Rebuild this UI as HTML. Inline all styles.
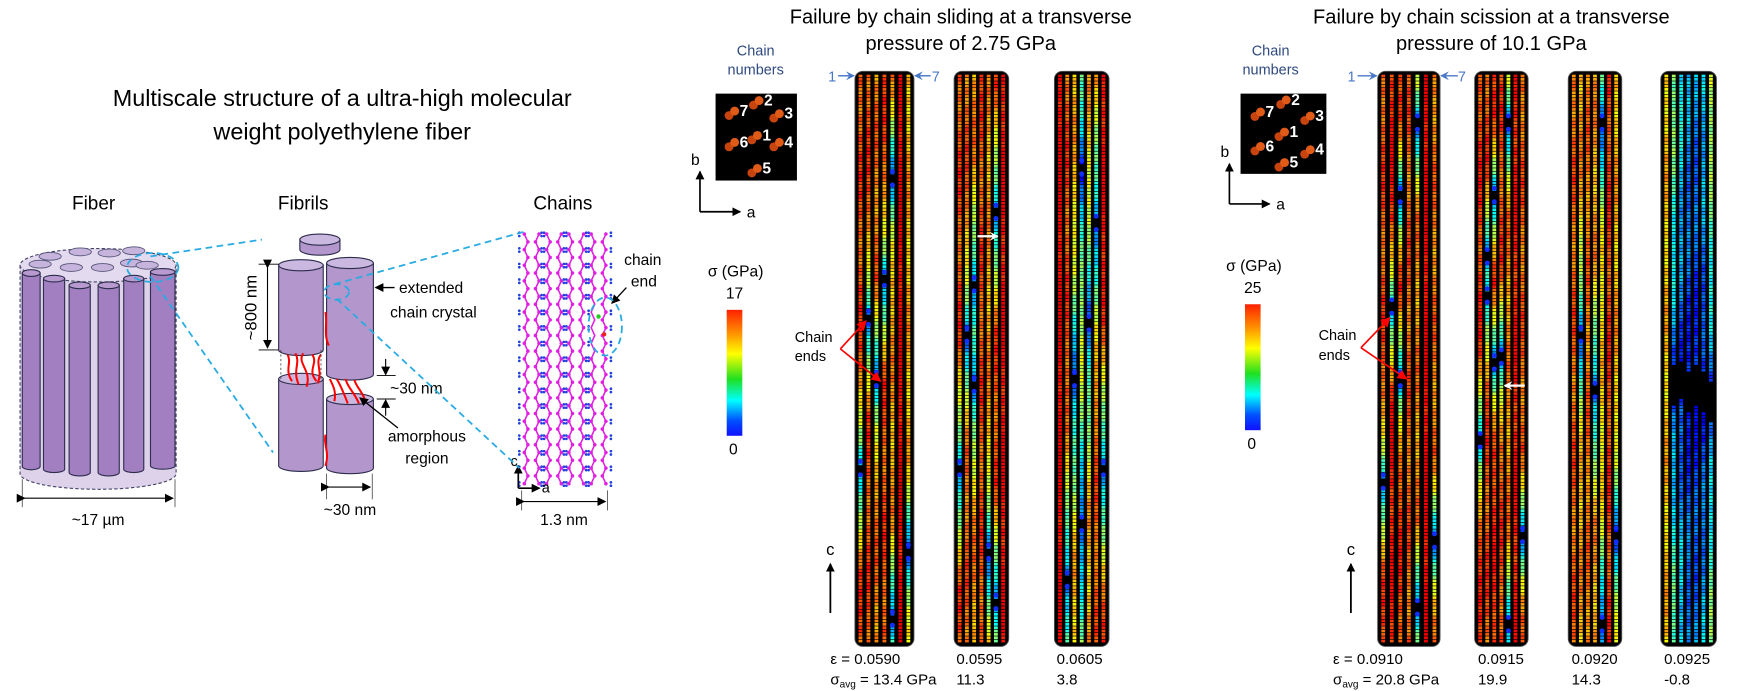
<!DOCTYPE html>
<html><head><meta charset="utf-8"><style>
html,body{margin:0;padding:0;background:#fff;}
svg{display:block;font-family:"Liberation Sans",Arial,sans-serif;}
</style></head><body>
<svg id="s" width="1741" height="691" viewBox="0 0 1562 620" preserveAspectRatio="none" xmlns="http://www.w3.org/2000/svg">
<defs>
<linearGradient id="cb" x1="0" y1="0" x2="0" y2="1">
<stop offset="0" stop-color="#ff2000"/><stop offset="0.2" stop-color="#ff9a00"/><stop offset="0.35" stop-color="#ffff00"/><stop offset="0.55" stop-color="#20e020"/><stop offset="0.72" stop-color="#00ffff"/><stop offset="0.88" stop-color="#0050ff"/><stop offset="1" stop-color="#1010ff"/>
</linearGradient>
<marker id="ah" markerWidth="8" markerHeight="8" refX="7" refY="4" orient="auto" markerUnits="userSpaceOnUse"><path d="M0,0 L8,4 L0,8 z" fill="#000"/></marker>
<marker id="ahr" markerWidth="9" markerHeight="9" refX="8" refY="4.5" orient="auto" markerUnits="userSpaceOnUse"><path d="M0,0 L9,4.5 L0,9 z" fill="#f00"/></marker>
<marker id="ahb" markerWidth="8" markerHeight="8" refX="7" refY="4" orient="auto" markerUnits="userSpaceOnUse"><path d="M0,0 L8,4 L0,8 L3,4 z" fill="#4a78c8"/></marker>
<marker id="ahw" markerWidth="8" markerHeight="8" refX="7" refY="4" orient="auto" markerUnits="userSpaceOnUse"><path d="M0,0 L8,4 L0,8 L3,4 z" fill="#fff"/></marker>
</defs>
<text x="307" y="95" font-size="21" text-anchor="middle">Multiscale structure of a ultra-high molecular</text>
<text x="307" y="125" font-size="21" text-anchor="middle">weight polyethylene fiber</text>
<text x="84" y="188" font-size="17" text-anchor="middle">Fiber</text>
<text x="272" y="188" font-size="17" text-anchor="middle">Fibrils</text>
<text x="505" y="188" font-size="17" text-anchor="middle">Chains</text>
<g id="fiber"></g>
<g id="fibrils"></g>
<g id="lattice"></g>
<g stroke="#29abe2" stroke-width="1.6" stroke-dasharray="6,4" fill="none">
<line x1="135" y1="230" x2="235" y2="215"/>
<line x1="135" y1="248" x2="245" y2="406"/>
<ellipse cx="137" cy="240" rx="23" ry="13"/>
<line x1="300" y1="255" x2="470" y2="208"/>
<line x1="302" y1="268" x2="466" y2="420"/>
<ellipse cx="302" cy="262" rx="11" ry="7"/>
<ellipse cx="543" cy="293" rx="15" ry="26"/>
</g>
<text x="862" y="21" font-size="18" text-anchor="middle">Failure by chain sliding at a transverse</text>
<text x="862" y="45" font-size="18" text-anchor="middle">pressure of 2.75 GPa</text>
<text x="1338" y="21" font-size="18" text-anchor="middle">Failure by chain scission at a transverse</text>
<text x="1338" y="45" font-size="18" text-anchor="middle">pressure of 10.1 GPa</text>
<g id="boxes"></g>
<g id="panels"></g>
<g id="anno"></g>
</svg>
<script>
(function(){
var NS="http://www.w3.org/2000/svg";
function el(p,t,a,txt){var e=document.createElementNS(NS,t);for(var k in a)e.setAttribute(k,a[k]);if(txt!==undefined)e.textContent=txt;document.getElementById(p).appendChild(e);return e;}
// Fiber
el("fiber","path",{d:"M18,238 L18,425 A70,14 0 0 0 158,425 L158,238 Z",fill:"#ddd2ea",stroke:"#444466","stroke-width":"1","stroke-dasharray":"3,2"});
el("fiber","ellipse",{cx:88,cy:238,rx:70,ry:15,fill:"#e4daef",stroke:"#444466","stroke-width":"1","stroke-dasharray":"3,2"});
var small=[[45,230],[72,226],[98,227],[120,225],[36,237],[64,240],[92,240],[118,236],[132,238]];
small.forEach(function(s){el("fiber","ellipse",{cx:s[0],cy:s[1],rx:10,ry:3.5,fill:"#c6b4dc",stroke:"#555577","stroke-width":"0.8"});});
var rods=[[20,36,245],[39,58,250],[62,81,256],[88,107,256],[111,129,250],[135,157,244]];
rods.forEach(function(r){var cx=(r[0]+r[1])/2,rx=(r[1]-r[0])/2,t=r[2],b=418+(t-244)*0.5;
el("fiber","path",{d:"M"+r[0]+","+t+" L"+r[0]+","+b+" A"+rx+",3 0 0 0 "+r[1]+","+b+" L"+r[1]+","+t+" Z",fill:"#a27fc0",stroke:"#2d2d4d","stroke-width":"1"});
el("fiber","ellipse",{cx:cx,cy:t,rx:rx,ry:3,fill:"#b89ad0",stroke:"#2d2d4d","stroke-width":"1"});});
el("fiber","line",{x1:20,y1:430,x2:20,y2:455,stroke:"#555","stroke-width":"0.8"});
el("fiber","line",{x1:157,y1:430,x2:157,y2:455,stroke:"#555","stroke-width":"0.8"});
el("fiber","line",{x1:22,y1:447,x2:155,y2:447,stroke:"#000","stroke-width":"1","marker-end":"url(#ah)","marker-start":"url(#ah)"});
el("fiber","text",{x:88,y:471,"font-size":"14","text-anchor":"middle"},"~17 µm");
// Fibrils
function cyl(x1,x2,t,b){var rx=(x2-x1)/2,cx=(x1+x2)/2;
el("fibrils","path",{d:"M"+x1+","+t+" L"+x1+","+b+" A"+rx+",5 0 0 0 "+x2+","+b+" L"+x2+","+t+" Z",fill:"#b296cc",stroke:"#2d2d4d","stroke-width":"1"});
el("fibrils","ellipse",{cx:cx,cy:t,rx:rx,ry:5,fill:"#cbb8e0",stroke:"#2d2d4d","stroke-width":"1"});}
cyl(269,305,215,224);cyl(250,290,238,314);cyl(293,335,236,336);cyl(250,290,340,418);cyl(293,335,358,420);
var rr=["M258,318 C262,326 255,332 262,342","M265,317 C270,326 262,332 268,345","M272,317 C266,326 280,332 275,347","M280,318 C286,326 275,332 284,342","M288,318 C282,326 290,332 285,344","M296,340 C298,345 302,350 300,360","M302,340 C306,346 308,352 312,362","M310,340 C312,348 318,352 322,362","M318,341 C320,348 326,352 328,361","M292,280 C294,290 290,300 295,310","M292,390 C290,400 296,405 292,418"];
rr.forEach(function(d){el("fibrils","path",{d:d,stroke:"#f00","stroke-width":"1.8",fill:"none"});});
el("fibrils","line",{x1:252,y1:314,x2:252,y2:340,stroke:"#333","stroke-width":"0.7","stroke-dasharray":"2,2"});
el("fibrils","line",{x1:288,y1:314,x2:288,y2:340,stroke:"#333","stroke-width":"0.7","stroke-dasharray":"2,2"});
el("fibrils","line",{x1:240,y1:240,x2:240,y2:312,stroke:"#000","stroke-width":"1","marker-end":"url(#ah)","marker-start":"url(#ah)"});
el("fibrils","line",{x1:232,y1:237,x2:250,y2:237,stroke:"#000","stroke-width":"0.8"});
el("fibrils","line",{x1:232,y1:314,x2:250,y2:314,stroke:"#000","stroke-width":"0.8"});
el("fibrils","text",{x:0,y:0,"font-size":"15","text-anchor":"middle",transform:"translate(230,276) rotate(-90)"},"~800 nm");
el("fibrils","line",{x1:354,y1:258,x2:337,y2:258,stroke:"#000","stroke-width":"1.2","marker-end":"url(#ah)"});
el("fibrils","text",{x:358,y:263,"font-size":"14"},"extended");
el("fibrils","text",{x:350,y:285,"font-size":"14"},"chain crystal");
el("fibrils","line",{x1:338,y1:337,x2:355,y2:337,stroke:"#000","stroke-width":"0.8"});
el("fibrils","line",{x1:338,y1:358,x2:355,y2:358,stroke:"#000","stroke-width":"0.8"});
el("fibrils","line",{x1:346,y1:322,x2:346,y2:336,stroke:"#000","stroke-width":"1","marker-end":"url(#ah)"});
el("fibrils","line",{x1:346,y1:373,x2:346,y2:359,stroke:"#000","stroke-width":"1","marker-end":"url(#ah)"});
el("fibrils","text",{x:350,y:353,"font-size":"14"},"~30 nm");
el("fibrils","line",{x1:357,y1:384,x2:323,y2:357,stroke:"#000","stroke-width":"1.2","marker-end":"url(#ah)"});
el("fibrils","text",{x:383,y:396,"font-size":"14","text-anchor":"middle"},"amorphous");
el("fibrils","text",{x:383,y:416,"font-size":"14","text-anchor":"middle"},"region");
el("fibrils","line",{x1:293,y1:425,x2:293,y2:448,stroke:"#555","stroke-width":"0.8"});
el("fibrils","line",{x1:334,y1:425,x2:334,y2:448,stroke:"#555","stroke-width":"0.8"});
el("fibrils","line",{x1:295,y1:437,x2:332,y2:437,stroke:"#000","stroke-width":"1","marker-end":"url(#ah)","marker-start":"url(#ah)"});
el("fibrils","text",{x:314,y:462,"font-size":"14","text-anchor":"middle"},"~30 nm");
// Lattice: zigzag chains
for(var c=0;c<8;c++){var x0=472+c*10;var pts=[];var offs=c%2;
var zx=function(i){return x0+(((i+offs)%2)?1.6:-1.6);};
for(var y=210,i=0;y<=434;y+=7,i++){pts.push(zx(i)+","+y);}
el("lattice","polyline",{points:pts.join(" "),stroke:"#e020e0","stroke-width":"1.4",fill:"none"});
for(var y=210,i=0;y<=434;y+=7,i++){var x=zx(i);
if(c==6&&y>268&&y<318)continue;
el("lattice","circle",{cx:x,cy:y,r:1.6,fill:"#e020e0"});
if(i%2==0){var d=(((i+offs)%2)?4.5:-4.5);el("lattice","circle",{cx:x+d,cy:y-1.2,r:1.2,fill:"#2040e0"});el("lattice","circle",{cx:x+d,cy:y+1.8,r:1.2,fill:"#2040e0"});}}}
el("lattice","circle",{cx:537,cy:284,r:2,fill:"#2c2"});el("lattice","circle",{cx:542,cy:300,r:2,fill:"#e22"});
el("lattice","line",{x1:465,y1:438,x2:465,y2:418,stroke:"#000","stroke-width":"1.5","marker-end":"url(#ah)"});
el("lattice","line",{x1:465,y1:438,x2:484,y2:438,stroke:"#000","stroke-width":"1.5","marker-end":"url(#ah)"});
el("lattice","text",{x:458,y:418,"font-size":"13"},"c");
el("lattice","text",{x:486,y:442,"font-size":"13"},"a");
el("lattice","line",{x1:468,y1:440,x2:468,y2:458,stroke:"#555","stroke-width":"0.8"});
el("lattice","line",{x1:545,y1:440,x2:545,y2:458,stroke:"#555","stroke-width":"0.8"});
el("lattice","line",{x1:470,y1:450,x2:543,y2:450,stroke:"#000","stroke-width":"1","marker-end":"url(#ah)","marker-start":"url(#ah)"});
el("lattice","text",{x:506,y:471,"font-size":"14","text-anchor":"middle"},"1.3 nm");
el("lattice","line",{x1:562,y1:258,x2:549,y2:272,stroke:"#000","stroke-width":"1.2","marker-end":"url(#ah)"});
el("lattice","text",{x:560,y:238,"font-size":"14"},"chain");
el("lattice","text",{x:566,y:257,"font-size":"14"},"end");
// Boxes
function box(g,x,y,w,h,pos,bx,by,cbx,cbt,cbb,cbmax,tcx){
el(g,"text",{x:tcx,y:50,"font-size":"13",fill:"#2f4a80","text-anchor":"middle"},"Chain");
el(g,"text",{x:tcx,y:67,"font-size":"13",fill:"#2f4a80","text-anchor":"middle"},"numbers");
el(g,"rect",{x:x,y:y,width:w,height:h,fill:"#000"});
pos.forEach(function(p){var cx=x+p[0]*w,cy=y+p[1]*h;
el(g,"circle",{cx:cx-2.5,cy:cy+2.5,r:4,fill:"#c8440e"});el(g,"circle",{cx:cx+2.5,cy:cy-1.5,r:4,fill:"#e05a18"});
el(g,"text",{x:cx+7,y:cy+3,"font-size":"14","font-weight":"bold",fill:"#fff"},p[2]);});
el(g,"line",{x1:bx,y1:by,x2:bx,y2:by-36,stroke:"#000","stroke-width":"1.5","marker-end":"url(#ah)"});
el(g,"line",{x1:bx,y1:by,x2:bx+36,y2:by,stroke:"#000","stroke-width":"1.5","marker-end":"url(#ah)"});
el(g,"text",{x:bx-8,y:by-42,"font-size":"14"},"b");
el(g,"text",{x:bx+42,y:by+5,"font-size":"14"},"a");
el(g,"text",{x:cbx+8,y:cbt-30,"font-size":"14","text-anchor":"middle"},"\u03c3 (GPa)");
el(g,"text",{x:cbx+7,y:cbt-10,"font-size":"14","text-anchor":"middle"},cbmax);
el(g,"rect",{x:cbx,y:cbt,width:14,height:cbb-cbt,fill:"url(#cb)"});
el(g,"text",{x:cbx+6,y:cbb+17,"font-size":"14","text-anchor":"middle"},"0");
}
box("boxes",642,84,73,78,[[0.5,0.1,"2"],[0.75,0.25,"3"],[0.2,0.22,"7"],[0.48,0.5,"1"],[0.75,0.58,"4"],[0.2,0.58,"6"],[0.48,0.88,"5"]],628,190,652,278,391,"17",678);
box("boxes",1113,84,77,72,[[0.5,0.1,"2"],[0.78,0.3,"3"],[0.2,0.25,"7"],[0.48,0.5,"1"],[0.78,0.72,"4"],[0.2,0.68,"6"],[0.48,0.88,"5"]],1103,183,1117,273,386,"25",1140);
function jet(t){t=Math.max(0,Math.min(1,t));var r,g,b;
if(t<0.125){r=0;g=0;b=0.6+t/0.125*0.4;}else if(t<0.375){r=0;g=(t-0.125)/0.25;b=1;}else if(t<0.625){r=(t-0.375)/0.25;g=1;b=1-(t-0.375)/0.25;}else if(t<0.875){r=1;g=1-(t-0.625)/0.25;b=0;}else{r=1-(t-0.875)/0.25*0.4;g=0;b=0;}
return "rgb("+Math.round(r*255)+","+Math.round(g*255)+","+Math.round(b*255)+")";}
var P=[
[767,53,90,[[0.8,[420]],[0.8,[285]],[0.76,[340]],[0.8,[250]],[0.72,[160,555]],[0.9,[]],[0.7,[495]]]],
[856,49,110,[[0.8,[420]],[0.78,[300]],[0.74,[255,345]],[0.8,[]],[0.72,[495]],[0.8,[190,540]],[0.88,[]]]],
[946,49,170,[[0.9,[]],[0.8,[520]],[0.7,[340]],[0.62,[150,470]],[0.7,[290]],[0.78,[200]],[0.88,[420]]]],
[1236,56,80,[[0.8,[432]],[0.86,[275]],[0.82,[175,340]],[0.78,[]],[0.74,[110,545]],[0.9,[]],[0.76,[485]]]],
[1323,48,80,[[0.82,[395]],[0.8,[230,265]],[0.84,[175,325]],[0.8,[320]],[0.74,[110,560]],[0.86,[]],[0.78,[480]]]],
[1407,48,120,[[0.78,[]],[0.72,[300]],[0.76,[]],[0.72,[350]],[0.66,[110,560]],[0.82,[]],[0.7,[480]]]],
[1490,50,300,[[0.68,[]],[0.55,[345]],[0.4,[340]],[0.3,[350]],[0.28,[345]],[0.35,[350]],[0.6,[360]]]]
];
var T0=64,B0=580;
P.forEach(function(p,pi){var x=p[0],w=p[1],L=p[2];
el("panels","rect",{x:x,y:T0,width:w,height:B0-T0,rx:7,fill:"#000",stroke:"#555","stroke-width":"0.8"});
var n=7,m=5,sp=(w-2*m)/(n-1);
p[3].forEach(function(ch,ci){var cx=x+m+ci*sp;var base=ch[0],gaps=ch[1];
for(var y=T0+3;y<B0-3;y+=3){var t=base;var skip=false;
gaps.forEach(function(gy){var d=Math.abs(y-gy);if(pi==6&&d<18&&ci>=1)skip=true;else if(d<5)skip=true;
var v=Math.min(base,0.08+Math.sqrt(Math.min(1,d/L))*(base-0.08));if(v<t)t=v;});
if(skip)continue;
var jit=Math.sin(y*0.37+ci*2.1+pi)*0.04+Math.sin(y*0.05+ci)*0.04;
el("panels","rect",{x:cx-1.7,y:y,width:3.4,height:2.4,fill:jet(t+jit)});}
gaps.forEach(function(gy){if(pi==6&&ci>=1)return;el("panels","circle",{cx:cx,cy:gy-6,r:2.2,fill:"#1030ff"});el("panels","circle",{cx:cx,cy:gy+6,r:2.2,fill:"#1030ff"});});
});});
function A(t,a,x){return el("anno",t,a,x);}
A("text",{x:743,y:73,"font-size":"13",fill:"#4a78c8"},"1");
A("line",{x1:752,y1:68,x2:766,y2:68,stroke:"#4a78c8","stroke-width":"1.3","marker-end":"url(#ahb)"});
A("line",{x1:835,y1:68,x2:821,y2:68,stroke:"#4a78c8","stroke-width":"1.3","marker-end":"url(#ahb)"});
A("text",{x:836,y:73,"font-size":"13",fill:"#4a78c8"},"7");
A("text",{x:1209,y:73,"font-size":"13",fill:"#4a78c8"},"1");
A("line",{x1:1218,y1:68,x2:1235,y2:68,stroke:"#4a78c8","stroke-width":"1.3","marker-end":"url(#ahb)"});
A("line",{x1:1308,y1:68,x2:1293,y2:68,stroke:"#4a78c8","stroke-width":"1.3","marker-end":"url(#ahb)"});
A("text",{x:1308,y:73,"font-size":"13",fill:"#4a78c8"},"7");
[[713,307,324,754,313,777,288,790,342],[1183,305,323,1221,312,1247,285,1262,340]].forEach(function(c){
A("text",{x:c[0],y:c[1],"font-size":"13"},"Chain");A("text",{x:c[0],y:c[2],"font-size":"13"},"ends");
A("line",{x1:c[3],y1:c[4],x2:c[5],y2:c[6],stroke:"#f00","stroke-width":"1.5","marker-end":"url(#ahr)"});
A("line",{x1:c[3],y1:c[4],x2:c[7],y2:c[8],stroke:"#f00","stroke-width":"1.5","marker-end":"url(#ahr)"});});
A("line",{x1:877,y1:212,x2:895,y2:212,stroke:"#fff","stroke-width":"2","marker-end":"url(#ahw)"});
A("line",{x1:1368,y1:346,x2:1350,y2:346,stroke:"#fff","stroke-width":"2","marker-end":"url(#ahw)"});
[745,1212].forEach(function(x){A("line",{x1:x,y1:550,x2:x,y2:506,stroke:"#000","stroke-width":"1.6","marker-end":"url(#ah)"});A("text",{x:x,y:498,"font-size":"15","text-anchor":"middle"},"c");});
function lab(x,a,b,full){A("text",{x:x,y:596,"font-size":"13.5"},(full?"\u03b5 = ":"")+a);
var t=A("text",{x:x,y:614,"font-size":"13.5"});
if(full){var s1=document.createElementNS(NS,"tspan");s1.textContent="\u03c3";t.appendChild(s1);var s2=document.createElementNS(NS,"tspan");s2.setAttribute("font-size","9");s2.setAttribute("dy","3");s2.textContent="avg";t.appendChild(s2);var s3=document.createElementNS(NS,"tspan");s3.setAttribute("dy","-3");s3.textContent=" = "+b+" GPa";t.appendChild(s3);}else t.textContent=b;}
lab(745,"0.0590","13.4",true);lab(858,"0.0595","11.3");lab(948,"0.0605","3.8");
lab(1196,"0.0910","20.8",true);lab(1326,"0.0915","19.9");lab(1410,"0.0920","14.3");lab(1493,"0.0925","-0.8");
})();
</script>
</body></html>
